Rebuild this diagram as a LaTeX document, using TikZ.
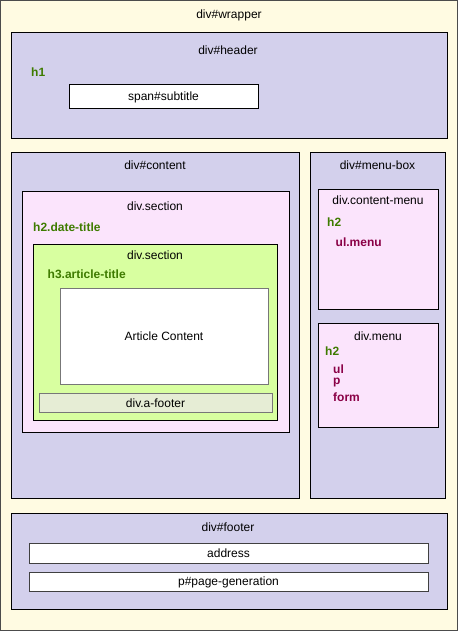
\documentclass[tikz,border=0pt]{standalone}
\usepackage{fontspec}
\setmainfont{Liberation Sans}
\definecolor{cream}{HTML}{FFFBE2}
\definecolor{lav}{HTML}{D3D0EC}
\definecolor{pinkbg}{HTML}{FBE4FC}
\definecolor{greenbg}{HTML}{D8FFA0}
\definecolor{afoot}{HTML}{E6EDD5}
\definecolor{tgreen}{HTML}{3E7B00}
\definecolor{tmaroon}{HTML}{8A0046}
\definecolor{edgegray}{HTML}{777777}
\tikzset{
  boxb/.style={draw=black, line width=1pt},
  boxg/.style={draw=edgegray, line width=1pt},
  lbl/.style={font=\fontsize{12}{14}\selectfont, inner sep=0pt, text=black},
  hgreen/.style={font=\fontsize{12}{14}\selectfont\bfseries, inner sep=0pt, anchor=west, text=tgreen},
  hmaroon/.style={font=\fontsize{12}{14}\selectfont\bfseries, inner sep=0pt, anchor=west, text=tmaroon},
}
\begin{document}
\begin{tikzpicture}[x=1pt,y=-1pt]
\useasboundingbox (0,0) rectangle (458,631);
% wrapper
\draw[fill=cream, draw=black!70, line width=1pt] (0.5,0.5) rectangle (457.5,630.5);
\node[lbl] (wrapper) at (229,15) {div\#wrapper};
% header
\draw[boxb, fill=lav] (11,33) rectangle (447,139);
\node[lbl] (header) at (228,50) {div\#header};
\node[hgreen] (h1) at (31,72) {h1};
\draw[boxb, fill=white] (69,85) rectangle (258,109);
\node[lbl] (subtitle) at (163.5,97) {span\#subtitle};
% content
\draw[boxb, fill=lav] (11,153) rectangle (299,498);
\node[lbl] (content) at (155,165) {div\#content};
\draw[boxb, fill=pinkbg] (22,191) rectangle (289,432);
\node[lbl] (section1) at (155,206) {div.section};
\node[hgreen] (h2date) at (33,227) {h2.date-title};
\draw[boxb, fill=greenbg] (33,244) rectangle (277,420);
\node[lbl] (section2) at (155,255) {div.section};
\node[hgreen] (h3art) at (47.5,274) {h3.article-title};
\draw[boxg, fill=white] (60,288) rectangle (268,384);
\node[lbl] (article) at (164,336) {Article Content};
\draw[boxg, fill=afoot] (39,393) rectangle (272,412);
\node[lbl] (afooter) at (155.5,403) {div.a-footer};
% menu box
\draw[boxb, fill=lav] (310,153) rectangle (445,498);
\node[lbl] (menubox) at (377.5,165) {div\#menu-box};
\draw[boxb, fill=pinkbg] (318,189) rectangle (438,309);
\node[lbl] (contentmenu) at (378,200) {div.content-menu};
\node[hgreen] (h2a) at (327,222) {h2};
\node[hmaroon] (ulmenu) at (335.5,242) {ul.menu};
\draw[boxb, fill=pinkbg] (318,323) rectangle (438,427);
\node[lbl] (menu) at (378,336) {div.menu};
\node[hgreen] (h2b) at (325,351) {h2};
\node[hmaroon] (ul) at (333,369) {ul};
\node[hmaroon] (p) at (333,383) {p};
\node[hmaroon] (form) at (333,397) {form};
% footer
\draw[boxb, fill=lav] (11,513) rectangle (447,609);
\node[lbl] (footer) at (228,527) {div\#footer};
\draw[boxg, draw=black!75, fill=white] (29,543) rectangle (428,563);
\node[lbl] (address) at (228.5,553) {address};
\draw[boxg, draw=black!75, fill=white] (29,572) rectangle (428,591);
\node[lbl] (pagegen) at (228.5,582) {p\#page-generation};
\end{tikzpicture}
\end{document}
